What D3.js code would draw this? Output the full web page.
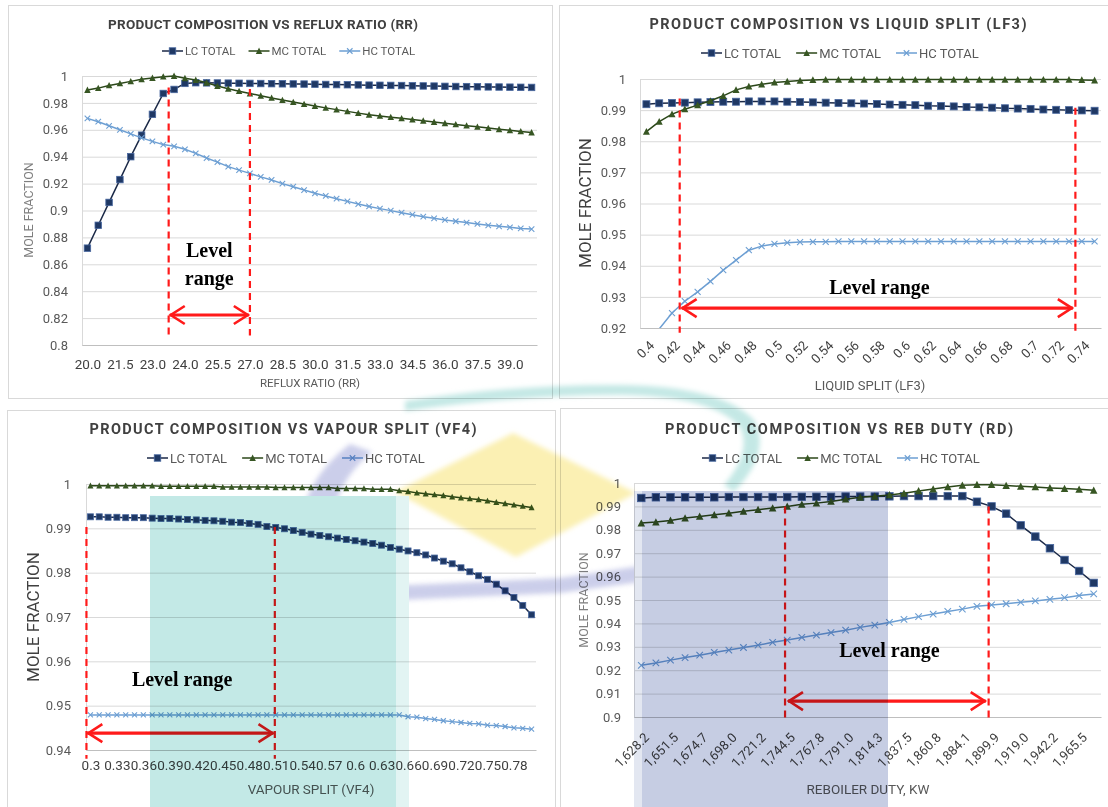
<!DOCTYPE html>
<html>
<head>
<meta charset="utf-8">
<script src="https://d3js.org/d3.v7.min.js"></script>
<style>
  body { margin: 0; background: #fff; }
  text { font-family: Roboto, "Liberation Sans", sans-serif; }
</style>
</head>
<body>
<script>
// ---------- data ----------
var seriesNames = ["LC TOTAL", "MC TOTAL", "HC TOTAL"];

// reflux ratio
var rrCats = ["20.0","20.5","21.0","21.5","22.0","22.5","23.0","23.3","23.7","24.0","24.5","25.0","25.5","26.0",
  "26.5","27.0","27.5","28.0","28.5","29.0","29.5","30.0","30.5","31.0","31.5","32.0","32.5","33.0","33.5","34.0",
  "34.5","35.0","35.5","36.0","36.5","37.0","37.5","38.0","38.5","39.0","39.5","40.0"];
var rrTicks = ["20.0","21.5","23.0","24.0","25.5","27.0","28.5","30.0","31.5","33.0","34.5","36.0","37.5","39.0"];
var rrYTicks = [0.8, 0.82, 0.84, 0.86, 0.88, 0.9, 0.92, 0.94, 0.96, 0.98, 1];
var rrLC = [0.872,0.889,0.906,0.923,0.940,0.956,0.9715,0.987,0.990,0.9945,0.995,0.9949,0.9948,0.9947,0.9946,0.9945,
  0.9944,0.9943,0.9942,0.9941,0.994,0.9939,0.9937,0.9936,0.9935,0.9934,0.9932,0.9931,0.993,0.9929,0.9927,0.9926,
  0.9925,0.9923,0.9922,0.9921,0.992,0.9919,0.9918,0.9917,0.9916,0.9915];
var rrMC = [0.9896,0.991,0.993,0.9945,0.996,0.9975,0.9985,0.9995,1.0,0.9983,0.997,0.995,0.9925,0.9905,0.9887,0.987,
  0.9853,0.9837,0.9821,0.9806,0.9791,0.9777,0.9763,0.975,0.9737,0.9724,0.9712,0.9703,0.9694,0.9685,0.9676,0.9667,
  0.9658,0.9649,0.964,0.9631,0.9622,0.9613,0.9604,0.9596,0.9588,0.958];
var rrHC = [0.9685,0.966,0.963,0.960,0.957,0.954,0.9514,0.949,0.9477,0.9455,0.9425,0.939,0.936,0.9326,0.930,0.9276,
  0.925,0.9227,0.920,0.9177,0.9152,0.9128,0.9108,0.9088,0.9068,0.9048,0.903,0.9014,0.8999,0.8984,0.8969,0.8954,
  0.8942,0.893,0.892,0.891,0.890,0.889,0.8882,0.8875,0.8867,0.8862];
var rrDash = [7.5, 15], rrDashTop = [0.9915, 0.9903], rrArrow = [7.6, 14.9];

// liquid split
var lfCats = [0.4,0.41,0.42,0.43,0.44,0.45,0.46,0.47,0.48,0.49,0.5,0.51,0.52,0.53,0.54,0.55,0.56,0.57,0.58,0.59,
  0.6,0.61,0.62,0.63,0.64,0.65,0.66,0.67,0.68,0.69,0.7,0.71,0.72,0.73,0.74,0.75];
var lfTicks = [0.4,0.42,0.44,0.46,0.48,0.5,0.52,0.54,0.56,0.58,0.6,0.62,0.64,0.66,0.68,0.7,0.72,0.74];
var lfYTicks = [0.92, 0.93, 0.94, 0.95, 0.96, 0.97, 0.98, 0.99, 1];
var lfLC = [0.9919,0.9922,0.9923,0.9924,0.9925,0.9926,0.9927,0.9927,0.9928,0.9928,0.9928,0.9927,0.9926,0.9925,
  0.9924,0.9923,0.9922,0.9921,0.992,0.9918,0.9917,0.9916,0.9914,0.9913,0.9912,0.991,0.9909,0.9908,0.9906,0.9905,
  0.9904,0.9902,0.9901,0.99,0.9899,0.9898];
var lfMC = [0.9831,0.9863,0.9887,0.9903,0.9916,0.993,0.9946,0.9965,0.9976,0.9983,0.9989,0.9992,0.9995,0.9997,
  0.9998,0.9998,0.9998,0.9998,0.9998,0.9998,0.9998,0.9998,0.9998,0.9998,0.9998,0.9998,0.9998,0.9998,0.9998,0.9998,
  0.9998,0.9998,0.9998,0.9998,0.9997,0.9996];
var lfHC = [0.914,0.9197,0.9248,0.9286,0.9316,0.935,0.9386,0.9418,0.945,0.9463,0.947,0.9474,0.9476,0.9477,0.9477,
  0.9478,0.9478,0.9478,0.9478,0.9478,0.9478,0.9478,0.9478,0.9478,0.9478,0.9478,0.9478,0.9478,0.9478,0.9478,0.9478,
  0.9478,0.9478,0.9478,0.9478,0.9478];
var lfDash = [2.6, 33.5], lfDashTop = [0.9937, 0.9908], lfArrow = [2.75, 33.3];

// vapour split
var vfCats = [0.3,0.31,0.32,0.33,0.34,0.35,0.36,0.37,0.38,0.39,0.4,0.41,0.42,0.43,0.44,0.45,0.46,0.47,0.48,0.49,
  0.5,0.51,0.52,0.53,0.54,0.55,0.56,0.57,0.58,0.59,0.6,0.61,0.62,0.63,0.64,0.65,0.66,0.67,0.68,0.69,0.7,0.71,0.72,
  0.73,0.74,0.75,0.76,0.77,0.78,0.79,0.8];
var vfTicks = [0.3,0.33,0.36,0.39,0.42,0.45,0.48,0.51,0.54,0.57,0.6,0.63,0.66,0.69,0.72,0.75,0.78];
var vfYTicks = [0.94, 0.95, 0.96, 0.97, 0.98, 0.99, 1];
var vfLC = [0.9926,0.9926,0.9925,0.9925,0.9924,0.9924,0.9924,0.9923,0.9922,0.9922,0.9921,0.992,0.9919,0.9918,0.9917,
  0.9916,0.9914,0.9913,0.9911,0.9909,0.9904,0.9902,0.9899,0.9895,0.9891,0.9887,0.9884,0.9881,0.9878,0.9875,0.9872,
  0.9869,0.9866,0.9862,0.9857,0.9853,0.9849,0.9845,0.984,0.9833,0.9826,0.982,0.9811,0.9802,0.9793,0.9785,0.9774,
  0.9759,0.9744,0.9726,0.9705];
var vfMC = [0.9996,0.9996,0.9996,0.9996,0.9996,0.9996,0.9996,0.9996,0.9995,0.9995,0.9995,0.9995,0.9995,0.9995,0.9995,
  0.9993,0.9993,0.9993,0.9993,0.9993,0.9993,0.9992,0.9992,0.9992,0.9992,0.9992,0.9992,0.9992,0.999,0.999,0.999,0.999,
  0.9988,0.9988,0.9988,0.9985,0.9983,0.998,0.9978,0.9976,0.9974,0.9971,0.9969,0.9967,0.9965,0.9962,0.9959,0.9956,
  0.9953,0.995,0.9947];
var vfHC = [0.9479,0.9479,0.9479,0.9479,0.9479,0.9479,0.9479,0.9479,0.9479,0.9479,0.9479,0.9479,0.9479,0.9479,0.9479,
  0.9479,0.9479,0.9479,0.9479,0.9479,0.9479,0.9479,0.9479,0.9479,0.9479,0.9479,0.9479,0.9479,0.9479,0.9479,0.9479,
  0.9479,0.9479,0.9479,0.9479,0.9479,0.9475,0.9474,0.9471,0.9469,0.9466,0.9464,0.9462,0.946,0.9459,0.9456,0.9455,
  0.9453,0.945,0.9449,0.9447];
var vfDash = [-0.45, 20.9], vfDashTop = [0.9903, 0.9903], vfArrow = [-0.35, 20.75];

// reboiler duty
var rdCats = [1628.2,1639.8,1651.5,1663.1,1674.7,1686.4,1698.0,1709.6,1721.2,1732.9,1744.5,1756.2,1767.8,1779.4,
  1791.0,1802.7,1814.3,1825.9,1837.5,1849.2,1860.8,1872.4,1884.1,1892.0,1899.9,1909.5,1919.0,1930.6,1942.2,1953.9,
  1965.5,1977.1];
var rdTicks = [1628.2,1651.5,1674.7,1698.0,1721.2,1744.5,1767.8,1791.0,1814.3,1837.5,1860.8,1884.1,1899.9,1919.0,
  1942.2,1965.5];
var rdYTicks = [0.9, 0.91, 0.92, 0.93, 0.94, 0.95, 0.96, 0.97, 0.98, 0.99, 1];
var rdLC = [0.9936,0.9939,0.9939,0.9939,0.9939,0.9939,0.994,0.994,0.994,0.994,0.994,0.9941,0.9941,0.9941,0.9942,
  0.9942,0.9942,0.9943,0.9944,0.9944,0.9944,0.9944,0.9944,0.992,0.990,0.9869,0.9819,0.9771,0.9721,0.9671,0.9624,0.9573];
var rdMC = [0.9829,0.9833,0.984,0.985,0.9857,0.9864,0.9871,0.9879,0.9886,0.9893,0.99,0.9909,0.9914,0.9921,0.9931,
  0.9939,0.9943,0.9949,0.9956,0.9966,0.9974,0.9983,0.999,0.9993,0.9993,0.9989,0.9986,0.9983,0.9979,0.9976,0.9973,0.9969];
var rdHC = [0.9221,0.9231,0.9243,0.9254,0.9264,0.9276,0.9286,0.9297,0.9307,0.9319,0.9329,0.934,0.935,0.9361,0.9371,
  0.9383,0.9393,0.9404,0.9417,0.9429,0.944,0.9451,0.9461,0.9473,0.9479,0.9484,0.949,0.9496,0.9503,0.951,0.9519,0.9526];
var rdDash = [9.85, 23.8], rdDashTop = [0.99, 0.99], rdArrow = [10.05, 23.6];
</script>
<script>
  var W = 1108, H = 807;
  var svg = d3.select("body").append("svg").attr("width", W).attr("height", H);
  svg.append("rect").attr("width", W).attr("height", H).attr("fill", "#fff");

  var styles = [
    { kind: "square", line: "#1b2947", fill: "#1f3864", stroke: "#48679f" },
    { kind: "triangle", line: "#2b4719", fill: "#375623", stroke: "#375623" },
    { kind: "cross", line: "#6d9fd3", fill: "none", stroke: "#6d9fd3" }
  ];

  function drawMarker(sel, st, cx, cy, s) {
    if (st.kind == "square") {
      sel.append("rect").attr("x", cx - s / 2).attr("y", cy - s / 2).attr("width", s).attr("height", s)
        .attr("fill", st.fill).attr("stroke", st.stroke).attr("stroke-width", 0.8);
    } else if (st.kind == "triangle") {
      var h = s * 0.9;
      sel.append("path")
        .attr("d", "M" + cx + "," + (cy - h / 2 - 0.5) + "L" + (cx + s / 2) + "," + (cy + h / 2) + "L" + (cx - s / 2) + "," + (cy + h / 2) + "Z")
        .attr("fill", st.fill);
    } else {
      var r = s / 2 - 0.5;
      sel.append("path")
        .attr("d", "M" + (cx - r) + "," + (cy - r) + "L" + (cx + r) + "," + (cy + r) + "M" + (cx - r) + "," + (cy + r) + "L" + (cx + r) + "," + (cy - r))
        .attr("stroke", st.stroke).attr("stroke-width", 1.1).attr("fill", "none");
    }
  }

  function drawPanel(p) {
    var g = svg.append("g");
    g.append("rect").attr("x", p.box[0] + 0.5).attr("y", p.box[1] + 0.5)
      .attr("width", p.box[2]).attr("height", p.box[3])
      .attr("fill", "#fff").attr("stroke", "#d9d9d9");

    var x = d3.scalePoint().domain(p.cats).range([p.left, p.right]).padding(0.5);
    var xAt = function (i) { return x(p.cats[0]) + i * x.step(); };
    var y = d3.scaleLinear().domain(p.yDomain).range([p.bottom, p.top]);

    // gridlines
    g.append("g")
      .attr("transform", "translate(" + p.left + ",0)")
      .call(d3.axisLeft(y).tickValues(p.yTicks).tickSize(-(p.right - p.left)).tickFormat(""))
      .call(function (a) { a.select(".domain").remove(); })
      .selectAll("line").attr("stroke", "#d9d9d9");
    g.append("line").attr("x1", p.left + 0.5).attr("x2", p.left + 0.5).attr("y1", p.top).attr("y2", p.bottom)
      .attr("stroke", "#d9d9d9");

    var yAx = g.append("g").attr("transform", "translate(" + p.left + ",0)")
      .call(d3.axisLeft(y).tickValues(p.yTicks).tickSize(0).tickPadding(p.left - p.yLabelRight).tickFormat(d3.format("~g")));
    yAx.select(".domain").remove();
    yAx.selectAll("text").attr("fill", "#595959").style("font-size", p.yFont + "px");

    var xAx = g.append("g").attr("transform", "translate(0," + p.bottom + ")")
      .call(d3.axisBottom(x).tickValues(p.xTicks).tickSize(0).tickFormat(p.xFormat));
    xAx.select(".domain").attr("stroke", "#bfbfbf");
    var xt = xAx.selectAll("text").attr("fill", "#404040").style("font-size", p.xFont + "px");
    if (p.rotate) {
      xt.attr("y", null).attr("dy", "0.35em").attr("text-anchor", "end")
        .attr("transform", "translate(" + p.rotDx + "," + p.rotDy + ") rotate(-45)");
    } else {
      xt.attr("y", p.xLabelDy).attr("dy", "0.71em");
    }

    // axis titles
    g.append("text").attr("x", p.xTitle[0]).attr("y", p.xTitle[1]).attr("text-anchor", "middle")
      .attr("dy", "0.35em").attr("fill", "#595959").style("font-size", p.xTitleFont + "px").text(p.xTitleText);
    g.append("text").attr("transform", "translate(" + p.yTitle[0] + "," + p.yTitle[1] + ") rotate(-90)")
      .attr("text-anchor", "middle").attr("dy", "0.35em").attr("fill", p.yTitleColor)
      .style("font-size", p.yTitleFont + "px").text("MOLE FRACTION");

    // chart title
    g.append("text").attr("x", p.title[0]).attr("y", p.title[1]).attr("text-anchor", "middle").attr("dy", "0.35em")
      .attr("fill", "#404040").style("font-weight", "bold").style("font-size", p.titleFont + "px")
      .attr("textLength", p.titleLen).attr("lengthAdjust", "spacing").text(p.titleText);

    // series
    var clipId = "clip" + p.id;
    g.append("clipPath").attr("id", clipId).append("rect")
      .attr("x", p.left - 8).attr("y", p.top - 8).attr("width", p.right - p.left + 16).attr("height", p.bottom - p.top + 8);
    var plot = g.append("g").attr("clip-path", "url(#" + clipId + ")");
    var line = d3.line().x(function (d, i) { return x(p.cats[i]); }).y(function (d) { return y(d); });
    p.series.forEach(function (vals, k) {
      var st = styles[k];
      plot.append("path").datum(vals).attr("d", line).attr("fill", "none")
        .attr("stroke", st.line).attr("stroke-width", 1.5).attr("stroke-linejoin", "round");
      var mg = plot.append("g");
      vals.forEach(function (v, i) {
        if (v >= p.yDomain[0]) drawMarker(mg, st, x(p.cats[i]), y(v), p.marker);
      });
    });

    // legend
    var lx = p.legend[0];
    p.series.forEach(function (vals, k) {
      var it = g.append("g").attr("transform", "translate(" + lx + "," + p.legend[1] + ")");
      it.append("line").attr("x1", 0).attr("x2", 21).attr("stroke", styles[k].line).attr("stroke-width", 1.5);
      drawMarker(it, styles[k], 10.5, 0, 6.5);
      var t = it.append("text").attr("x", 23).attr("dy", "0.35em").attr("fill", "#595959")
        .style("font-size", p.legendFont + "px").text(seriesNames[k]);
      lx += 23 + t.node().getComputedTextLength() + p.legendGap;
    });

    // level range annotation
    var red = "#ff1a1a";
    p.dash.forEach(function (d, k) {
      g.append("line").attr("x1", xAt(d)).attr("x2", xAt(d)).attr("y1", y(p.dashTop[k])).attr("y2", y(p.dashBottom))
        .attr("stroke", red).attr("stroke-width", 2.2).attr("stroke-dasharray", "7,5");
    });
    var ay = y(p.arrowY), a0 = xAt(p.arrow[0]), a1 = xAt(p.arrow[1]);
    g.append("line").attr("x1", a0).attr("x2", a1).attr("y1", ay).attr("y2", ay)
      .attr("stroke", red).attr("stroke-width", 3.2);
    g.append("path")
      .attr("d", "M" + (a0 + 15) + "," + (ay - 9) + "L" + (a0 + 1) + "," + ay + "L" + (a0 + 15) + "," + (ay + 9) +
        "M" + (a1 - 15) + "," + (ay - 9) + "L" + (a1 - 1) + "," + ay + "L" + (a1 - 15) + "," + (ay + 9))
      .attr("fill", "none").attr("stroke", red).attr("stroke-width", 2.6);
    p.levelText.forEach(function (t, k) {
      g.append("text").attr("x", xAt(p.textAt[0])).attr("y", y(p.textAt[1]) + k * 28)
        .attr("text-anchor", "middle").attr("dy", "0.35em").attr("fill", "#000")
        .style("font-family", "'Liberation Serif', 'Times New Roman', serif")
        .style("font-weight", "bold").style("font-size", "20px").text(t);
    });
  }

  drawPanel({
    id: 1, box: [8, 5, 544, 393], cats: rrCats, xTicks: rrTicks, xFormat: function (d) { return d; },
    series: [rrLC, rrMC, rrHC], yDomain: [0.8, 1], yTicks: rrYTicks,
    left: 82, right: 537, top: 76, bottom: 345, yLabelRight: 68, yFont: 13,
    xFont: 13.5, xLabelDy: 14, rotate: false,
    xTitle: [310, 383], xTitleText: "REFLUX RATIO (RR)", xTitleFont: 11.5,
    yTitle: [29, 210], yTitleFont: 12.5, yTitleColor: "#7f7f7f",
    title: [263, 24], titleText: "PRODUCT COMPOSITION VS REFLUX RATIO (RR)", titleFont: 13.5, titleLen: 310,
    legend: [162, 51], legendFont: 11.5, legendGap: 13, marker: 6.5,
    dash: rrDash, dashTop: rrDashTop, dashBottom: 0.807, arrow: rrArrow, arrowY: 0.8223,
    levelText: ["Level", "range"], textAt: [11.25, 0.8706]
  });

  drawPanel({
    id: 2, box: [559, 5, 549, 393], cats: lfCats, xTicks: lfTicks, xFormat: function (d) { return String(d); },
    series: [lfLC, lfMC, lfHC], yDomain: [0.92, 1], yTicks: lfYTicks,
    left: 640, right: 1101, top: 79, bottom: 328, yLabelRight: 626, yFont: 13,
    xFont: 13, rotate: true, rotDx: 5, rotDy: 15,
    xTitle: [870, 385], xTitleText: "LIQUID SPLIT (LF3)", xTitleFont: 13,
    yTitle: [585, 203], yTitleFont: 17, yTitleColor: "#404040",
    title: [838, 24], titleText: "PRODUCT COMPOSITION VS LIQUID SPLIT (LF3)", titleFont: 14.5, titleLen: 377,
    legend: [701, 53], legendFont: 13, legendGap: 15, marker: 7,
    dash: lfDash, dashTop: lfDashTop, dashBottom: 0.9185, arrow: lfArrow, arrowY: 0.9264,
    levelText: ["Level range"], textAt: [18.2, 0.9332]
  });

  drawPanel({
    id: 3, box: [7, 410, 548, 397], cats: vfCats, xTicks: vfTicks, xFormat: function (d) { return String(d); },
    series: [vfLC, vfMC, vfHC], yDomain: [0.94, 1], yTicks: vfYTicks,
    left: 86, right: 536, top: 484, bottom: 750, yLabelRight: 71, yFont: 13,
    xFont: 13.5, xLabelDy: 10, rotate: false,
    xTitle: [311, 789], xTitleText: "VAPOUR SPLIT (VF4)", xTitleFont: 13.5,
    yTitle: [33, 617], yTitleFont: 17, yTitleColor: "#404040",
    title: [283, 429], titleText: "PRODUCT COMPOSITION VS VAPOUR SPLIT (VF4)", titleFont: 14.5, titleLen: 387,
    legend: [147, 458], legendFont: 13, legendGap: 15, marker: 6,
    dash: vfDash, dashTop: vfDashTop, dashBottom: 0.938, arrow: vfArrow, arrowY: 0.9438,
    levelText: ["Level range"], textAt: [10.4, 0.9561]
  });

  drawPanel({
    id: 4, box: [560, 408, 548, 399], cats: rdCats, xTicks: rdTicks, xFormat: d3.format(",.1f"),
    series: [rdLC, rdMC, rdHC], yDomain: [0.9, 1], yTicks: rdYTicks,
    left: 634, right: 1101, top: 483, bottom: 717, yLabelRight: 621, yFont: 13,
    xFont: 13, rotate: true, rotDx: 5, rotDy: 18,
    xTitle: [868, 789], xTitleText: "REBOILER DUTY, KW", xTitleFont: 13.5,
    yTitle: [584, 600], yTitleFont: 12.5, yTitleColor: "#7f7f7f",
    title: [839, 429], titleText: "PRODUCT COMPOSITION VS REB DUTY (RD)", titleFont: 14.5, titleLen: 348,
    legend: [702, 458], legendFont: 13, legendGap: 15, marker: 7.5,
    dash: rdDash, dashTop: rdDashTop, dashBottom: 0.8995, arrow: rdArrow, arrowY: 0.9068,
    levelText: ["Level range"], textAt: [17.0, 0.9286]
  });

  // background logo shapes showing through the figure
  var wm = svg.append("g").style("mix-blend-mode", "multiply");
  var defs = svg.append("defs");
  defs.append("filter").attr("id", "soft").append("feGaussianBlur").attr("stdDeviation", 2.5);

  wm.append("path") // cyan swoosh
    .attr("d", "M405,401 Q520,384 620,385 Q722,386 754,420 Q772,452 734,492 L724,485 Q752,452 740,427 Q712,396 620,395 Q520,395 405,411Z")
    .attr("fill", "#c4e8e5").attr("filter", "url(#soft)");
  wm.append("path") // yellow diamond
    .attr("d", "M513,433 L636,493 L516,557 L395,492Z")
    .attr("fill", "#fbf0b3").attr("filter", "url(#soft)");
  wm.append("path") // lavender crescent
    .attr("d", "M350,444 C276,500 280,600 400,600 L560,593 L640,582 L640,566 L560,578 L410,585 C322,580 312,500 372,452Z")
    .attr("fill", "#c6c9e8").attr("opacity", 0.9).attr("filter", "url(#soft)");
  wm.append("rect").attr("x", 150).attr("y", 496).attr("width", 246).attr("height", 311).attr("fill", "#c3e9e6");
  wm.append("rect").attr("x", 396).attr("y", 496).attr("width", 13).attr("height", 311).attr("fill", "#e2f4f3");
  wm.append("rect").attr("x", 642).attr("y", 491).attr("width", 246).attr("height", 316).attr("fill", "#c6cde3");
  wm.append("rect").attr("x", 634).attr("y", 491).attr("width", 8).attr("height", 316).attr("fill", "#e3e7f1");
</script>
</body>
</html>
